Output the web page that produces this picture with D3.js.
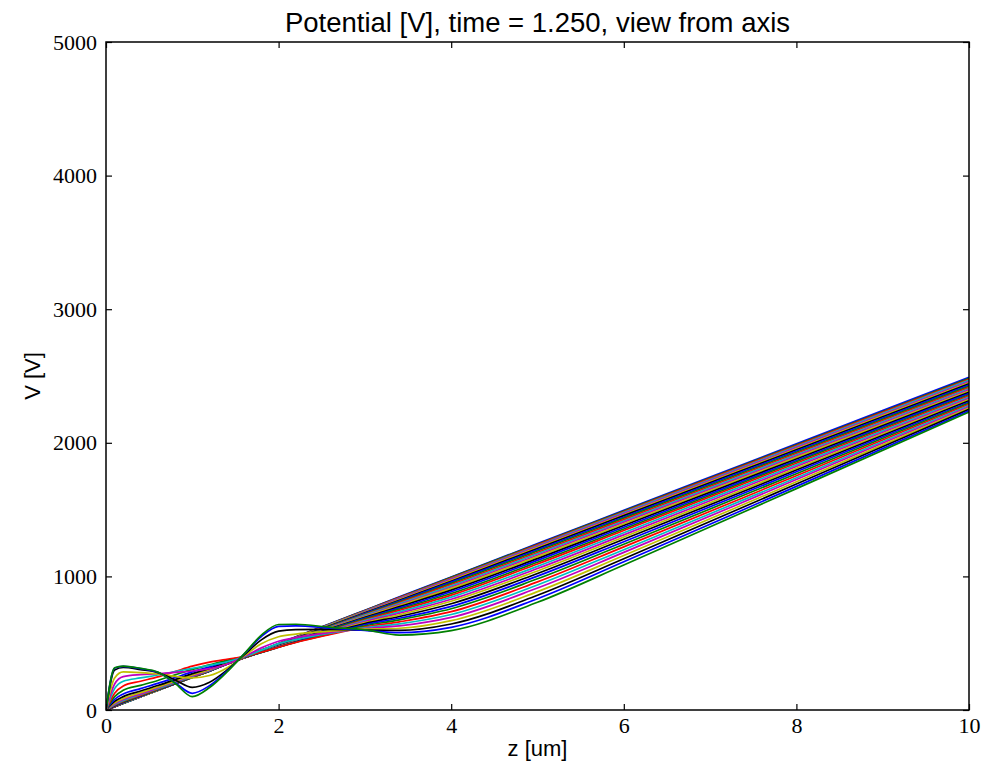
<!DOCTYPE html>
<html>
<head>
<meta charset="utf-8">
<script src="https://cdn.jsdelivr.net/npm/d3@7"></script>
<style>
body { margin: 0; background: #fff; }
</style>
</head>
<body>
<svg id="chart" width="994" height="766"></svg>
<script>
// z positions shared by every curve
const zGrid = [0, 0.1, 0.2, 0.4, 0.6, 0.8, 1.0, 1.2, 1.4, 1.6, 1.8, 2.0, 2.2, 2.6, 3.0, 3.4, 4.0, 5.0, 6.0, 8.0, 10.0];

// one row per radial position, in drawing order (outermost first, axis last)
const potential = [
    [0, 25, 50, 100, 149, 199, 249, 299, 349, 398, 448, 498, 548, 647, 747, 847, 996, 1245, 1494, 1992, 2490],
    [0, 25, 50, 99, 149, 199, 248, 298, 348, 397, 447, 497, 546, 646, 745, 844, 993, 1241, 1490, 1986, 2483],
    [0, 25, 50, 99, 149, 198, 248, 297, 347, 396, 446, 495, 545, 644, 743, 841, 988, 1236, 1484, 1980, 2476],
    [0, 25, 49, 99, 148, 197, 247, 296, 346, 395, 444, 494, 543, 641, 739, 837, 983, 1230, 1478, 1972, 2468],
    [0, 25, 50, 99, 148, 197, 246, 295, 345, 394, 443, 492, 541, 638, 736, 832, 978, 1224, 1470, 1964, 2459],
    [0, 26, 50, 99, 148, 197, 246, 295, 344, 393, 441, 490, 539, 635, 732, 827, 971, 1216, 1462, 1956, 2450],
    [0, 25, 51, 100, 147, 196, 245, 294, 344, 393, 440, 489, 537, 633, 727, 822, 964, 1209, 1455, 1948, 2441],
    [0, 26, 51, 99, 148, 197, 245, 293, 343, 392, 440, 487, 535, 629, 724, 816, 957, 1199, 1445, 1939, 2432],
    [0, 26, 51, 100, 147, 196, 244, 293, 343, 392, 438, 486, 533, 626, 719, 810, 948, 1190, 1436, 1929, 2423],
    [0, 27, 52, 100, 148, 196, 244, 292, 343, 391, 438, 485, 531, 623, 714, 803, 939, 1179, 1425, 1920, 2414],
    [0, 28, 53, 100, 148, 196, 244, 292, 344, 391, 437, 483, 529, 620, 710, 796, 929, 1169, 1415, 1910, 2405],
    [0, 29, 54, 102, 149, 197, 244, 292, 343, 390, 435, 482, 527, 616, 704, 789, 919, 1158, 1405, 1900, 2396],
    [0, 30, 55, 102, 149, 197, 244, 291, 343, 391, 435, 480, 526, 613, 699, 782, 910, 1148, 1394, 1891, 2387],
    [0, 31, 57, 104, 151, 197, 245, 291, 344, 390, 434, 480, 524, 609, 693, 774, 897, 1133, 1381, 1879, 2378],
    [0, 33, 59, 106, 152, 199, 246, 291, 345, 391, 433, 478, 522, 605, 688, 764, 885, 1120, 1368, 1868, 2369],
    [0, 35, 62, 108, 154, 201, 247, 292, 345, 392, 433, 477, 520, 602, 682, 755, 872, 1106, 1355, 1858, 2360],
    [0, 38, 66, 111, 157, 203, 249, 294, 347, 391, 432, 475, 518, 597, 675, 746, 860, 1093, 1343, 1847, 2351],
    [0, 41, 71, 116, 161, 206, 252, 296, 349, 393, 432, 474, 516, 593, 669, 735, 845, 1075, 1327, 1835, 2342],
    [0, 46, 78, 121, 166, 211, 256, 299, 351, 393, 432, 474, 514, 590, 662, 724, 829, 1059, 1311, 1822, 2333],
    [0, 54, 86, 130, 172, 218, 262, 304, 354, 394, 431, 473, 512, 584, 654, 713, 814, 1041, 1295, 1809, 2324],
    [0, 64, 100, 142, 183, 227, 272, 311, 358, 395, 432, 472, 510, 580, 647, 700, 795, 1022, 1278, 1796, 2315],
    [0, 79, 120, 160, 199, 242, 285, 323, 364, 397, 431, 471, 509, 575, 638, 687, 776, 1002, 1260, 1783, 2306],
    [0, 100, 147, 184, 221, 263, 304, 338, 372, 399, 431, 470, 507, 570, 630, 675, 758, 982, 1241, 1769, 2297],
    [0, 125, 180, 215, 248, 288, 328, 358, 380, 400, 432, 470, 505, 565, 620, 660, 736, 959, 1221, 1754, 2288],
    [0, 160, 215, 240, 262, 288, 312, 334, 360, 398, 448, 497, 527, 575, 615, 645, 715, 936, 1200, 1739, 2279],
    [0, 195, 250, 265, 272, 282, 292, 310, 342, 400, 465, 515, 542, 580, 610, 630, 693, 913, 1180, 1725, 2270],
    [0, 240, 285, 280, 270, 252, 240, 258, 315, 405, 495, 548, 568, 590, 605, 612, 669, 886, 1156, 1708, 2260],
    [0, 300, 318, 302, 280, 225, 170, 208, 298, 412, 525, 590, 602, 604, 598, 596, 644, 859, 1132, 1691, 2250],
    [0, 314, 327, 310, 282, 205, 125, 182, 290, 418, 550, 626, 630, 612, 596, 579, 619, 833, 1109, 1674, 2240],
    [0, 316, 329, 312, 285, 200, 100, 168, 283, 420, 560, 640, 642, 619, 600, 561, 594, 806, 1085, 1657, 2230]
];

// matplotlib classic colour cycle b g r c m y k
const lineColors = ["#0000ff", "#008000", "#ff0000", "#00bfbf", "#bf00bf", "#bfbf00", "#000000"];

const xTicks = [0, 2, 4, 6, 8, 10];
const yTicks = [0, 1000, 2000, 3000, 4000, 5000];

const margin = {top: 42, right: 25, bottom: 56, left: 106};
const width = 994 - margin.left - margin.right;
const height = 766 - margin.top - margin.bottom;

const svg = d3.select("#chart");
const g = svg.append("g").attr("transform", `translate(${margin.left},${margin.top})`);

const x = d3.scaleLinear().domain([0, 10]).range([0, width]);
const y = d3.scaleLinear().domain([0, 5000]).range([height, 0]);

g.append("clipPath").attr("id", "plot-clip")
    .append("rect").attr("width", width).attr("height", height);

const line = d3.line()
    .x((d, i) => x(zGrid[i]))
    .y(d => y(d))
    .curve(d3.curveMonotoneX);

g.append("g")
    .attr("clip-path", "url(#plot-clip)")
    .selectAll("path")
    .data(potential)
    .enter()
    .append("path")
    .attr("d", line)
    .style("fill", "none")
    .style("stroke", (d, i) => lineColors[i % lineColors.length])
    .style("stroke-width", 1.7)
    .style("stroke-linejoin", "round");

const tickFont = "'Liberation Serif', 'DejaVu Serif', serif";
const plain = d3.format("d");

g.append("g")
    .attr("transform", `translate(0,${height})`)
    .call(d3.axisBottom(x).tickValues(xTicks).tickFormat(plain).tickSizeInner(-6).tickSizeOuter(0).tickPadding(7.5));

g.append("g")
    .call(d3.axisLeft(y).tickValues(yTicks).tickFormat(plain).tickSizeInner(-6).tickSizeOuter(0).tickPadding(9));

g.append("g")
    .call(d3.axisTop(x).tickValues(xTicks).tickSizeInner(-6).tickSizeOuter(0).tickFormat(""));

g.append("g")
    .attr("transform", `translate(${width},0)`)
    .call(d3.axisRight(y).tickValues(yTicks).tickSizeInner(-6).tickSizeOuter(0).tickFormat(""));

g.selectAll(".domain").remove();
g.selectAll(".tick line").style("stroke", "#000").style("stroke-width", 1.2);
g.selectAll(".tick text")
    .style("font-family", tickFont)
    .style("font-size", "22px")
    .style("fill", "#000");

// axes frame
g.append("rect")
    .attr("width", width)
    .attr("height", height)
    .style("fill", "none")
    .style("stroke", "#000")
    .style("stroke-width", 1.5);

const labelFont = "'Liberation Sans', Arial, sans-serif";

svg.append("text")
    .attr("x", margin.left + width / 2)
    .attr("y", 32)
    .attr("text-anchor", "middle")
    .style("font-family", labelFont)
    .style("font-size", "27.5px")
    .text("Potential [V], time = 1.250, view from axis");

svg.append("text")
    .attr("x", margin.left + width / 2)
    .attr("y", 756)
    .attr("text-anchor", "middle")
    .style("font-family", labelFont)
    .style("font-size", "22px")
    .text("z [um]");

svg.append("text")
    .attr("transform", `translate(40,${margin.top + height / 2}) rotate(-90)`)
    .attr("text-anchor", "middle")
    .style("font-family", labelFont)
    .style("font-size", "22px")
    .text("V [V]");
</script>
</body>
</html>
